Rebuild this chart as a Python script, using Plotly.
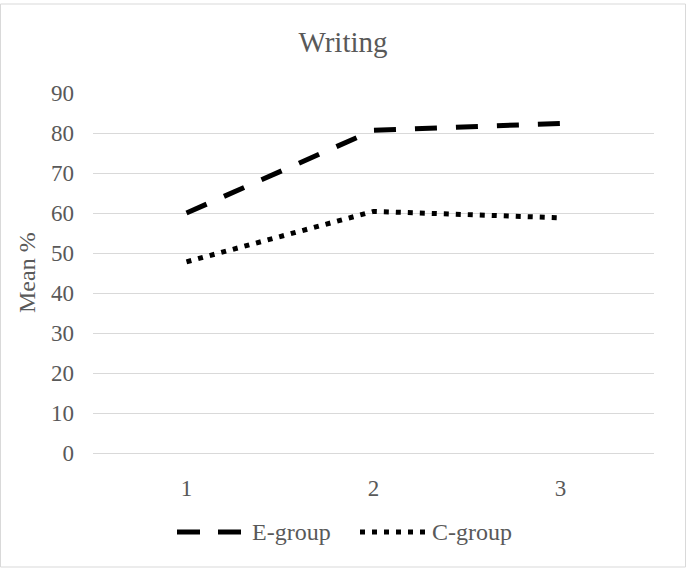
import plotly.graph_objects as go

# Mean writing scores per test occasion
occasions = ["1", "2", "3"]
series_names = ["E-group", "C-group"]
e_group = [60.0, 80.7, 82.4]
c_group = [47.8, 60.4, 58.8]
y_ticks = [0, 10, 20, 30, 40, 50, 60, 70, 80, 90]

SERIF = "Liberation Serif"
TEXT = "#595959"
GRID = "#d9d9d9"

W, H = 686, 568
L, R, T, B = 93, 32, 93, 115
pw, ph = W - L - R, H - T - B


def px_x(p):
    return (p - L) / pw


def px_y(p):
    return (H - B - p) / ph


fig = go.Figure()
fig.add_trace(go.Scatter(x=occasions, y=e_group, mode="lines",
                         line=dict(color="black", width=5, dash="22px,19px")))
fig.add_trace(go.Scatter(x=occasions, y=c_group, mode="lines",
                         line=dict(color="black", width=5, dash="5px,7px")))

# legend entries drawn as text next to their line keys
fig.add_annotation(text=series_names[0], x=px_x(250), y=px_y(532), xref="paper", yref="paper",
                   xanchor="left", yanchor="middle", showarrow=False,
                   font=dict(family=SERIF, size=24, color=TEXT))
fig.add_annotation(text=series_names[1], x=px_x(430), y=px_y(532), xref="paper", yref="paper",
                   xanchor="left", yanchor="middle", showarrow=False,
                   font=dict(family=SERIF, size=24, color=TEXT))
# y-axis title
fig.add_annotation(text="Mean %", x=px_x(27), y=0.5, xref="paper", yref="paper",
                   xanchor="center", yanchor="middle", textangle=-90, showarrow=False,
                   font=dict(family=SERIF, size=24, color=TEXT))

fig.update_layout(
    width=W, height=H,
    margin=dict(l=L, r=R, t=T, b=B),
    plot_bgcolor="white",
    showlegend=False,
    font=dict(family=SERIF, color=TEXT),
    title=dict(text="Writing", x=0.5, y=1 - 42 / H, xanchor="center", yanchor="middle",
               font=dict(family=SERIF, size=29, color=TEXT)),
    shapes=[
        # outer chart frame
        dict(type="rect", xref="paper", yref="paper", layer="below",
             x0=px_x(0.5), x1=px_x(685.5), y0=px_y(567), y1=px_y(4),
             line=dict(color=GRID, width=1)),
        # legend keys
        dict(type="line", xref="paper", yref="paper",
             x0=px_x(177), x1=px_x(241), y0=px_y(532), y1=px_y(532),
             line=dict(color="black", width=5, dash="23px,18px")),
        dict(type="line", xref="paper", yref="paper",
             x0=px_x(360), x1=px_x(428), y0=px_y(532), y1=px_y(532),
             line=dict(color="black", width=5, dash="5px,7px")),
    ],
)
fig.update_xaxes(
    range=[-0.5, 2.5], showgrid=False, showline=True, linecolor=GRID,
    ticklabelstandoff=14, tickfont=dict(family=SERIF, size=23, color=TEXT),
)
fig.update_yaxes(
    range=[0, 90], tickvals=y_ticks, gridcolor=GRID, zeroline=False,
    ticklabelstandoff=18, tickfont=dict(family=SERIF, size=23, color=TEXT),
)

fig.write_html("out.html")
